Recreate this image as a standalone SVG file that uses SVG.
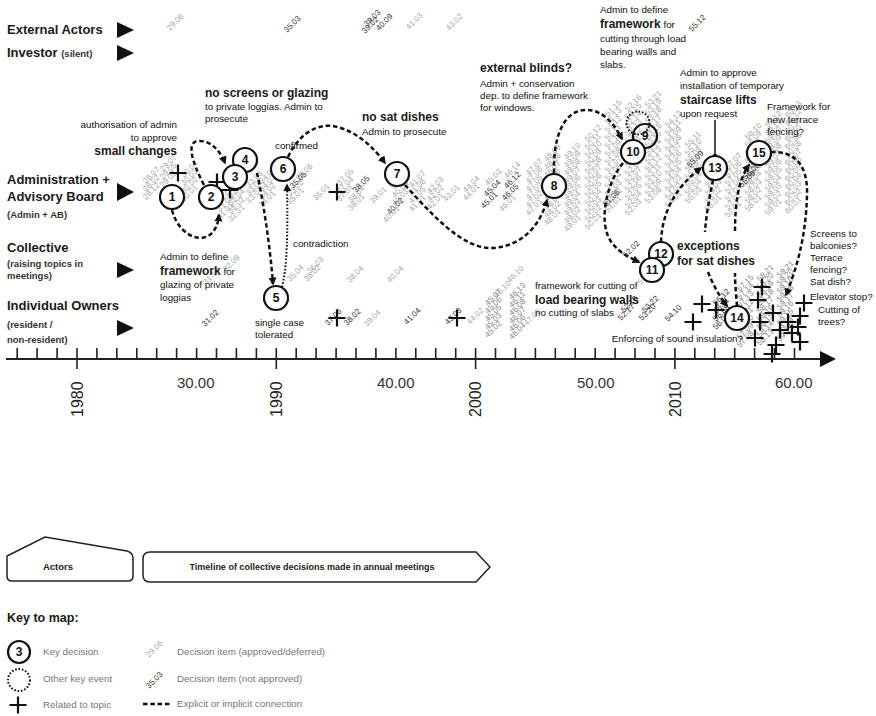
<svg xmlns="http://www.w3.org/2000/svg" width="876" height="716" viewBox="0 0 876 716">
<defs>
<style>
text{font-family:"Liberation Sans",Arial,sans-serif}
.rl{font-size:13px;font-weight:bold;fill:#1a1a1a}
.rs{font-size:9.5px;font-weight:bold;fill:#333}
.hd{font-size:12px;font-weight:bold;fill:#1a1a1a}
.sm{font-size:9.8px;fill:#111}
.g{font-size:8px;fill:#a8a8a8}
.dk{font-size:8px;fill:#333}
.md{font-size:8px;fill:#888}
.con{fill:none;stroke:#111;stroke-width:2.5;stroke-dasharray:4.5 2.8}
.dot{fill:none;stroke:#111;stroke-width:2;stroke-dasharray:1.6 1.8}
.kc{fill:#fff;stroke:#111;stroke-width:2.2}
.num{font-size:12px;font-weight:bold;text-anchor:middle;fill:#111}
.x{stroke:#111;stroke-width:2.2;fill:none}
.ax{stroke:#222;stroke-width:2;fill:none}
.tk{stroke:#222;stroke-width:1.6;fill:none}
.yr{font-size:16px;fill:#222}
.mt{font-size:15px;fill:#333}
.lg{font-size:9.8px;fill:#777}
.tri{fill:#111}
</style>
<marker id="ah" viewBox="0 0 10 10" refX="8" refY="5" markerWidth="8" markerHeight="8" markerUnits="userSpaceOnUse" orient="auto"><path d="M0,0 L10,5 L0,10 z" fill="#111"/></marker>
<path id="cr" d="M-8.5,0 H8.5 M0,-8.5 V8.5"/>
</defs>
<rect width="876" height="716" fill="#fff"/>

<g id="decision-items">
<text class="g" transform="translate(170,31) rotate(-45)">29.06</text>
<text class="dk" transform="translate(287,33) rotate(-45)">35.03</text>
<text class="dk" transform="translate(367,27) rotate(-45)">39.03</text>
<text class="dk" transform="translate(365,34) rotate(-45)">39.02</text>
<text class="dk" transform="translate(379,31) rotate(-45)">40.09</text>
<text class="g" transform="translate(409,30) rotate(-45)">41.03</text>
<text class="g" transform="translate(449,31) rotate(-45)">43.02</text>
<text class="dk" transform="translate(692,32) rotate(-45)">55.12</text>
<text class="g" transform="translate(146,184) rotate(-45)"><tspan x="0" y="0">28.07</tspan><tspan x="-5.66" y="5.66">28.02</tspan><tspan x="-11.3" y="11.3">28.12</tspan></text>
<text class="g" transform="translate(163,172) rotate(-45)"><tspan x="0" y="0">29.07</tspan><tspan x="-5.66" y="5.66">29.05</tspan><tspan x="-11.3" y="11.3">29.02</tspan></text>
<text class="g" transform="translate(184,178) rotate(-45)"><tspan x="0" y="0">30.04</tspan><tspan x="-5.66" y="5.66">30.03</tspan><tspan x="-11.3" y="11.3">30.02</tspan><tspan x="-17" y="17">30.01</tspan></text>
<text class="g" transform="translate(220,204) rotate(-45)"><tspan x="0" y="0">31.04</tspan><tspan x="-5.66" y="5.66">31.03</tspan><tspan x="-11.3" y="11.3">31.01</tspan></text>
<text class="g" transform="translate(231,198) rotate(-45)"><tspan x="0" y="0">32.06</tspan><tspan x="-5.66" y="5.66">32.04</tspan><tspan x="-11.3" y="11.3">32.02</tspan><tspan x="-17" y="17">32.01</tspan></text>
<text class="g" transform="translate(249,188) rotate(-45)"><tspan x="0" y="0">33.03</tspan><tspan x="-5.66" y="5.66">33.02</tspan><tspan x="-11.3" y="11.3">33.01</tspan></text>
<text class="g" transform="translate(262,184) rotate(-45)"><tspan x="0" y="0">34.05</tspan><tspan x="-5.66" y="5.66">34.03</tspan><tspan x="-11.3" y="11.3">34.02</tspan><tspan x="-17" y="17">34.01</tspan></text>
<text class="g" transform="translate(299,181) rotate(-45)">35.06</text>
<text class="dk" transform="translate(293,189) rotate(-45)">35.05</text>
<text class="g" transform="translate(290,197) rotate(-45)"><tspan x="0" y="0">35.02</tspan><tspan x="-5.66" y="5.66">35.01</tspan></text>
<text class="g" transform="translate(316,201) rotate(-45)">36.01</text>
<text class="g" transform="translate(340,186) rotate(-45)"><tspan x="0" y="0">37.05</tspan><tspan x="-5.66" y="5.66">37.04</tspan><tspan x="-11.3" y="11.3">37.01</tspan></text>
<text class="dk" transform="translate(356,193) rotate(-45)">38.05</text>
<text class="g" transform="translate(351,203) rotate(-45)"><tspan x="0" y="0">38.04</tspan><tspan x="-5.66" y="5.66">38.01</tspan></text>
<text class="g" transform="translate(373,204) rotate(-45)">39.01</text>
<text class="g" transform="translate(395,190) rotate(-45)"><tspan x="0" y="0">40.07</tspan><tspan x="-5.66" y="5.66">40.05</tspan><tspan x="-11.3" y="11.3">40.03</tspan></text>
<text class="dk" transform="translate(390,215) rotate(-45)">40.02</text>
<text class="g" transform="translate(386,223) rotate(-45)">40.01</text>
<text class="g" transform="translate(412,188) rotate(-45)"><tspan x="0" y="0">41.07</tspan><tspan x="-5.66" y="5.66">41.06</tspan><tspan x="-11.3" y="11.3">41.05</tspan><tspan x="-17" y="17">41.01</tspan></text>
<text class="g" transform="translate(430,194) rotate(-45)"><tspan x="0" y="0">42.03</tspan><tspan x="-5.66" y="5.66">42.02</tspan><tspan x="-11.3" y="11.3">42.01</tspan></text>
<text class="g" transform="translate(446,202) rotate(-45)">43.01</text>
<text class="g" transform="translate(466,193) rotate(-45)"><tspan x="0" y="0">44.04</tspan><tspan x="-5.66" y="5.66">44.01</tspan></text>
<text class="g" transform="translate(488,186) rotate(-45)">45.03</text>
<text class="dk" transform="translate(487,197) rotate(-45)">45.04</text>
<text class="dk" transform="translate(484,209) rotate(-45)">45.01</text>
<text class="g" transform="translate(507,179) rotate(-45)">46.14</text>
<text class="dk" transform="translate(507,189) rotate(-45)">46.12</text>
<text class="dk" transform="translate(505,201) rotate(-45)">46.05</text>
<text class="g" transform="translate(502,212) rotate(-45)">46.01</text>
<text class="g" transform="translate(529,176) rotate(-45)"><tspan x="0" y="0">47.07</tspan><tspan x="-5.66" y="5.66">47.06</tspan><tspan x="-11.3" y="11.3">47.05</tspan><tspan x="-17" y="17">47.03</tspan><tspan x="-22.6" y="22.6">47.02</tspan><tspan x="-28.3" y="28.3">47.01</tspan></text>
<text class="g" transform="translate(547,162) rotate(-45)"><tspan x="0" y="0">48.09</tspan><tspan x="-5.66" y="5.66">48.08</tspan><tspan x="-11.3" y="11.3">48.07</tspan><tspan x="-17" y="17">48.06</tspan><tspan x="-22.6" y="22.6">48.05</tspan><tspan x="-28.3" y="28.3">48.04</tspan><tspan x="-34" y="34">48.03</tspan><tspan x="-39.6" y="39.6">48.02</tspan><tspan x="-45.3" y="45.3">48.01</tspan></text>
<text class="g" transform="translate(567,160) rotate(-45)"><tspan x="0" y="0">49.10</tspan><tspan x="-5.66" y="5.66">49.09</tspan><tspan x="-11.3" y="11.3">49.08</tspan><tspan x="-17" y="17">49.07</tspan><tspan x="-22.6" y="22.6">49.06</tspan><tspan x="-28.3" y="28.3">49.05</tspan><tspan x="-34" y="34">49.04</tspan><tspan x="-39.6" y="39.6">49.03</tspan><tspan x="-45.3" y="45.3">49.02</tspan><tspan x="-50.9" y="50.9">49.01</tspan></text>
<text class="g" transform="translate(588,142) rotate(-45)"><tspan x="0" y="0">50.12</tspan><tspan x="-5.66" y="5.66">50.11</tspan><tspan x="-11.3" y="11.3">50.10</tspan><tspan x="-17" y="17">50.09</tspan><tspan x="-22.6" y="22.6">50.08</tspan><tspan x="-28.3" y="28.3">50.07</tspan><tspan x="-34" y="34">50.06</tspan><tspan x="-39.6" y="39.6">50.05</tspan><tspan x="-45.3" y="45.3">50.04</tspan><tspan x="-50.9" y="50.9">50.03</tspan><tspan x="-56.6" y="56.6">50.02</tspan><tspan x="-62.2" y="62.2">50.01</tspan></text>
<text class="g" transform="translate(608,117) rotate(-45)"><tspan x="0" y="0">51.15</tspan><tspan x="-5.66" y="5.66">51.13</tspan><tspan x="-11.3" y="11.3">51.12</tspan><tspan x="-17" y="17">51.11</tspan><tspan x="-22.6" y="22.6">51.10</tspan><tspan x="-28.3" y="28.3">51.09</tspan><tspan x="-34" y="34">51.08</tspan><tspan x="-39.6" y="39.6">51.07</tspan><tspan x="-45.3" y="45.3">51.05</tspan><tspan x="-50.9" y="50.9">51.04</tspan><tspan x="-56.6" y="56.6">51.03</tspan><tspan x="-62.2" y="62.2">51.02</tspan><tspan x="-67.9" y="67.9">51.01</tspan></text>
<text class="g" transform="translate(628,112) rotate(-45)"><tspan x="0" y="0">52.16</tspan><tspan x="-5.66" y="5.66">52.15</tspan><tspan x="-11.3" y="11.3">52.14</tspan><tspan x="-17" y="17">52.13</tspan><tspan x="-22.6" y="22.6">52.12</tspan><tspan x="-28.3" y="28.3">52.11</tspan><tspan x="-34" y="34">52.10</tspan><tspan x="-39.6" y="39.6">52.09</tspan><tspan x="-45.3" y="45.3">52.08</tspan><tspan x="-50.9" y="50.9">52.07</tspan><tspan x="-56.6" y="56.6">52.06</tspan><tspan x="-62.2" y="62.2">52.05</tspan><tspan x="-67.9" y="67.9">52.04</tspan><tspan x="-73.5" y="73.5">52.03</tspan></text>
<text class="g" transform="translate(648,108) rotate(-45)"><tspan x="0" y="0">53.21</tspan><tspan x="-5.66" y="5.66">53.19</tspan><tspan x="-11.3" y="11.3">53.18</tspan><tspan x="-17" y="17">53.17</tspan><tspan x="-22.6" y="22.6">53.16</tspan><tspan x="-28.3" y="28.3">53.15</tspan><tspan x="-34" y="34">53.14</tspan><tspan x="-39.6" y="39.6">53.13</tspan><tspan x="-45.3" y="45.3">53.12</tspan><tspan x="-50.9" y="50.9">53.11</tspan><tspan x="-56.6" y="56.6">53.10</tspan><tspan x="-62.2" y="62.2">53.09</tspan><tspan x="-67.9" y="67.9">53.08</tspan></text>
<text class="g" transform="translate(668,128) rotate(-45)"><tspan x="0" y="0">54.12</tspan><tspan x="-5.66" y="5.66">54.11</tspan><tspan x="-11.3" y="11.3">54.09</tspan><tspan x="-17" y="17">54.08</tspan><tspan x="-22.6" y="22.6">54.07</tspan><tspan x="-28.3" y="28.3">54.06</tspan><tspan x="-34" y="34">54.05</tspan><tspan x="-39.6" y="39.6">54.04</tspan><tspan x="-45.3" y="45.3">54.03</tspan><tspan x="-50.9" y="50.9">54.02</tspan><tspan x="-56.6" y="56.6">54.01</tspan></text>
<text class="g" transform="translate(688,148) rotate(-45)"><tspan x="0" y="0">55.11</tspan><tspan x="-5.66" y="5.66">55.10</tspan><tspan x="-11.3" y="11.3">55.08</tspan><tspan x="-17" y="17">55.07</tspan><tspan x="-22.6" y="22.6">55.06</tspan><tspan x="-28.3" y="28.3">55.05</tspan><tspan x="-34" y="34">55.04</tspan><tspan x="-39.6" y="39.6">55.03</tspan></text>
<text class="g" transform="translate(708,172) rotate(-45)"><tspan x="0" y="0">56.10</tspan><tspan x="-5.66" y="5.66">56.05</tspan><tspan x="-11.3" y="11.3">56.04</tspan><tspan x="-17" y="17">56.03</tspan><tspan x="-22.6" y="22.6">56.02</tspan><tspan x="-28.3" y="28.3">56.01</tspan></text>
<text class="g" transform="translate(728,170) rotate(-45)"><tspan x="0" y="0">57.07</tspan><tspan x="-5.66" y="5.66">57.06</tspan><tspan x="-11.3" y="11.3">57.05</tspan><tspan x="-17" y="17">57.04</tspan><tspan x="-22.6" y="22.6">57.03</tspan><tspan x="-28.3" y="28.3">57.02</tspan><tspan x="-34" y="34">57.01</tspan></text>
<text class="g" transform="translate(748,140) rotate(-45)"><tspan x="0" y="0">58.10</tspan><tspan x="-5.66" y="5.66">58.09</tspan><tspan x="-11.3" y="11.3">58.08</tspan><tspan x="-17" y="17">58.07</tspan><tspan x="-22.6" y="22.6">58.06</tspan><tspan x="-28.3" y="28.3">58.05</tspan><tspan x="-34" y="34">58.04</tspan><tspan x="-39.6" y="39.6">58.03</tspan><tspan x="-45.3" y="45.3">58.02</tspan><tspan x="-50.9" y="50.9">58.01</tspan></text>
<text class="g" transform="translate(768,128) rotate(-45)"><tspan x="0" y="0">59.12</tspan><tspan x="-5.66" y="5.66">59.11</tspan><tspan x="-11.3" y="11.3">59.10</tspan><tspan x="-17" y="17">59.09</tspan><tspan x="-22.6" y="22.6">59.08</tspan><tspan x="-28.3" y="28.3">59.07</tspan><tspan x="-34" y="34">59.06</tspan><tspan x="-39.6" y="39.6">59.05</tspan><tspan x="-45.3" y="45.3">59.04</tspan><tspan x="-50.9" y="50.9">59.03</tspan><tspan x="-56.6" y="56.6">59.02</tspan><tspan x="-62.2" y="62.2">59.01</tspan></text>
<text class="g" transform="translate(788,118) rotate(-45)"><tspan x="0" y="0">60.13</tspan><tspan x="-5.66" y="5.66">60.12</tspan><tspan x="-11.3" y="11.3">60.11</tspan><tspan x="-17" y="17">60.10</tspan><tspan x="-22.6" y="22.6">60.09</tspan><tspan x="-28.3" y="28.3">60.08</tspan><tspan x="-34" y="34">60.07</tspan><tspan x="-39.6" y="39.6">60.06</tspan><tspan x="-45.3" y="45.3">60.05</tspan><tspan x="-50.9" y="50.9">60.04</tspan><tspan x="-56.6" y="56.6">60.03</tspan><tspan x="-62.2" y="62.2">60.02</tspan><tspan x="-67.9" y="67.9">60.01</tspan></text>
<text class="dk" transform="translate(606,207) rotate(-45)">51.06</text>
<text class="dk" transform="translate(626,258) rotate(-45)">52.02</text>
<text class="dk" transform="translate(690,168) rotate(-45)">55.09</text>
<text class="dk" transform="translate(746,180) rotate(-45)">56.06</text>
<text class="dk" transform="translate(742,188) rotate(-45)">56.09</text>
<text class="g" transform="translate(206,285) rotate(-45)">31.14</text>
<text class="g" transform="translate(226,272) rotate(-45)">32.08</text>
<text class="g" transform="translate(290,282) rotate(-45)">35.04</text>
<text class="g" transform="translate(310,274) rotate(-45)">36.03</text>
<text class="g" transform="translate(307,282) rotate(-45)">36.02</text>
<text class="g" transform="translate(350,283) rotate(-45)">38.04</text>
<text class="g" transform="translate(390,283) rotate(-45)">40.04</text>
<text class="g" transform="translate(510,283) rotate(-45)">46.10</text>
<text class="g" transform="translate(641,285) rotate(-45)">51.14</text>
<text class="dk" transform="translate(205,327) rotate(-45)">31.02</text>
<text class="dk" transform="translate(328,326) rotate(-45)">37.06</text>
<text class="dk" transform="translate(347,326) rotate(-45)">38.02</text>
<text class="g" transform="translate(367,327) rotate(-45)">39.04</text>
<text class="dk" transform="translate(407,325) rotate(-45)">41.04</text>
<text class="dk" transform="translate(448,325) rotate(-45)">43.03</text>
<text class="g" transform="translate(470,325) rotate(-45)">44.02</text>
<text class="g" transform="translate(497,298) rotate(-45)">45.10</text>
<text class="md" transform="translate(488,306) rotate(-45)"><tspan x="0" y="0">45.07</tspan><tspan x="-5.66" y="5.66">45.06</tspan><tspan x="-11.3" y="11.3">45.05</tspan><tspan x="-17" y="17">45.03</tspan><tspan x="-22.6" y="22.6">45.02</tspan></text>
<text class="md" transform="translate(512,300) rotate(-45)"><tspan x="0" y="0">46.13</tspan><tspan x="-5.66" y="5.66">46.11</tspan><tspan x="-11.3" y="11.3">46.08</tspan><tspan x="-17" y="17">46.07</tspan><tspan x="-22.6" y="22.6">46.06</tspan><tspan x="-28.3" y="28.3">46.04</tspan></text>
<text class="g" transform="translate(527,326) rotate(-45)">47.06</text>
<text class="dk" transform="translate(624,313) rotate(-45)">52.18</text>
<text class="dk" transform="translate(621,321) rotate(-45)">52.17</text>
<text class="dk" transform="translate(645,313) rotate(-45)">53.22</text>
<text class="dk" transform="translate(642,321) rotate(-45)">53.20</text>
<text class="dk" transform="translate(668,322) rotate(-45)">54.10</text>
<text class="dk" transform="translate(716,306) rotate(-45)"><tspan x="0" y="0">56.12</tspan><tspan x="-5.66" y="5.66">56.11</tspan><tspan x="-11.3" y="11.3">56.08</tspan><tspan x="-17" y="17">56.07</tspan></text>
<text class="md" transform="translate(740,292) rotate(-45)"><tspan x="0" y="0">57.15</tspan><tspan x="-5.66" y="5.66">57.14</tspan><tspan x="-11.3" y="11.3">57.13</tspan><tspan x="-17" y="17">57.12</tspan><tspan x="-22.6" y="22.6">57.11</tspan><tspan x="-28.3" y="28.3">57.10</tspan><tspan x="-34" y="34">57.09</tspan><tspan x="-39.6" y="39.6">57.08</tspan></text>
<text class="md" transform="translate(760,282) rotate(-45)"><tspan x="0" y="0">58.21</tspan><tspan x="-5.66" y="5.66">58.20</tspan><tspan x="-11.3" y="11.3">58.19</tspan><tspan x="-17" y="17">58.18</tspan><tspan x="-22.6" y="22.6">58.17</tspan><tspan x="-28.3" y="28.3">58.16</tspan><tspan x="-34" y="34">58.15</tspan><tspan x="-39.6" y="39.6">58.14</tspan><tspan x="-45.3" y="45.3">58.13</tspan></text>
<text class="md" transform="translate(780,278) rotate(-45)"><tspan x="0" y="0">59.21</tspan><tspan x="-5.66" y="5.66">59.20</tspan><tspan x="-11.3" y="11.3">59.19</tspan><tspan x="-17" y="17">59.18</tspan><tspan x="-22.6" y="22.6">59.17</tspan><tspan x="-28.3" y="28.3">59.16</tspan><tspan x="-34" y="34">59.15</tspan><tspan x="-39.6" y="39.6">59.14</tspan><tspan x="-45.3" y="45.3">59.13</tspan></text>
</g>

<g id="axis">
<path class="ax" d="M6,359 H822"/>
<polygon class="tri" points="820,351 836,359 820,367"/>
<path class="tk" d="M17.2,348V359M37.1,348V359M57.1,348V359M77,348V369M96.9,348V359M116.8,348V359M136.8,348V359M156.7,348V359M176.6,348V359M196.6,348V359M216.5,348V359M236.4,348V359M256.4,348V359M276.3,348V369M296.2,348V359M316.1,348V359M336.1,348V359M356,348V359M375.9,348V359M395.9,348V359M415.8,348V359M435.7,348V359M455.7,348V359M475.6,348V369M495.5,348V359M515.4,348V359M535.4,348V359M555.3,348V359M575.2,348V359M595.2,348V359M615.1,348V359M635,348V359M655,348V359M674.9,348V369M694.8,348V359M714.7,348V359M734.7,348V359M754.6,348V359M774.5,348V359M794.5,348V359"/>
<text class="yr" transform="translate(83,417) rotate(-90)">1980</text>
<text class="yr" transform="translate(282,417) rotate(-90)">1990</text>
<text class="yr" transform="translate(481,417) rotate(-90)">2000</text>
<text class="yr" transform="translate(681,417) rotate(-90)">2010</text>
<text class="mt" x="177" y="388">30.00</text>
<text class="mt" x="377" y="388">40.00</text>
<text class="mt" x="577" y="388">50.00</text>
<text class="mt" x="775" y="388">60.00</text>
</g>

<g id="connectors">
<path class="con" d="M172,210 C180,242 216,250 219,215" marker-end="url(#ah)"/>
<path class="con" d="M204,185 C192,162 186,142 198,141 C210,140 220,150 225,163" marker-end="url(#ah)"/>
<path class="con" d="M257,173 C263,200 270,245 273,284" marker-end="url(#ah)"/>
<path class="dot" d="M282,287 C287,268 288,235 287,185" marker-end="url(#ah)"/>
<path class="con" d="M288,157 C300,132 318,124 333,126 C356,130 374,148 385,163" marker-end="url(#ah)"/>
<path class="con" d="M405,185 C428,210 462,250 493,248 C522,246 540,226 547,200" marker-end="url(#ah)"/>
<path class="con" d="M554,173 C553,140 562,111 585,110 C603,109 615,125 622,139" marker-end="url(#ah)"/>
<path class="con" d="M623,163 C605,185 598,225 612,243 C620,253 630,258 639,262" marker-end="url(#ah)"/>
<path class="con" d="M661,242 C662,214 674,188 701,168" marker-end="url(#ah)"/>
<path class="con" d="M713,180 C709,200 706,216 705,232"/>
<path class="con" d="M708,272 C713,285 720,297 727,306" marker-end="url(#ah)"/>
<path class="con" d="M737,306 C736,295 735,283 735,273"/>
<path class="con" d="M735,231 C735,205 738,180 749,165" marker-end="url(#ah)"/>
<path class="con" d="M771,152 C795,151 808,165 807,195 C806,238 796,270 786,295" marker-end="url(#ah)"/>
<path d="M715,156 V120" stroke="#111" stroke-width="1.5" fill="none"/>
<circle cx="715" cy="156" r="2.3" fill="#111"/>
</g>

<g id="topic-markers" class="x">
<use href="#cr" x="178" y="173"/>
<use href="#cr" x="217" y="182"/>
<use href="#cr" x="230" y="190"/>
<use href="#cr" x="337" y="192"/>
<use href="#cr" x="337" y="318"/>
<use href="#cr" x="457" y="318"/>
<use href="#cr" x="693" y="322"/>
<use href="#cr" x="702" y="304"/>
<use href="#cr" x="716" y="310"/>
<use href="#cr" x="755" y="338"/>
<use href="#cr" x="758" y="300"/>
<use href="#cr" x="762" y="287"/>
<use href="#cr" x="760" y="322"/>
<use href="#cr" x="773" y="313"/>
<use href="#cr" x="776" y="345"/>
<use href="#cr" x="772" y="354"/>
<use href="#cr" x="780" y="330"/>
<use href="#cr" x="788" y="322"/>
<use href="#cr" x="792" y="333"/>
<use href="#cr" x="798" y="327"/>
<use href="#cr" x="800" y="342"/>
<use href="#cr" x="804" y="303"/>
<use href="#cr" x="800" y="316"/>
</g>

<g id="n1"><circle class="kc" cx="172" cy="197" r="12"/><text class="num" x="172" y="201.3">1</text></g>
<g id="n2"><circle class="kc" cx="211" cy="197" r="12"/><text class="num" x="211" y="201.3">2</text></g>
<g id="n4"><circle class="kc" cx="245" cy="160" r="12"/><text class="num" x="245" y="164.3">4</text></g>
<g id="n3"><circle class="kc" cx="235" cy="177" r="12"/><text class="num" x="235" y="181.3">3</text></g>
<g id="n5"><circle class="kc" cx="276" cy="298" r="12"/><text class="num" x="276" y="302.3">5</text></g>
<g id="n6"><circle class="kc" cx="283" cy="169" r="12"/><text class="num" x="283" y="173.3">6</text></g>
<g id="n7"><circle class="kc" cx="397" cy="174" r="12"/><text class="num" x="397" y="178.3">7</text></g>
<g id="n8"><circle class="kc" cx="554" cy="186" r="12"/><text class="num" x="554" y="190.3">8</text></g>
<g id="other-event"><circle class="dot" cx="638" cy="123" r="11.5"/></g>
<g id="n9"><circle cx="645" cy="136" r="12" fill="none" stroke="#111" stroke-width="2.2"/><text class="num" x="645" y="140.3">9</text></g>
<g id="n10"><circle class="kc" cx="633" cy="152" r="12"/><text class="num" x="633" y="156.3">10</text></g>
<g id="n12"><circle class="kc" cx="661" cy="254" r="12"/><text class="num" x="661" y="258.3">12</text></g>
<g id="n11"><circle class="kc" cx="652" cy="270" r="12"/><text class="num" x="652" y="274.3">11</text></g>
<g id="n13"><circle class="kc" cx="715" cy="168" r="12"/><text class="num" x="715" y="172.3">13</text></g>
<g id="n14"><circle class="kc" cx="737" cy="318" r="12"/><text class="num" x="737" y="322.3">14</text></g>
<g id="n15"><circle class="kc" cx="759" cy="153" r="12"/><text class="num" x="759" y="157.3">15</text></g>

<g id="annotations">
<text class="sm" x="177" y="128" text-anchor="end">authorisation of admin</text>
<text class="sm" x="177" y="141" text-anchor="end">to approve</text>
<text class="hd" x="177" y="155" text-anchor="end">small changes</text>
<text class="hd" x="205" y="97">no screens or glazing</text>
<text class="sm" x="205" y="110">to private loggias. Admin to</text>
<text class="sm" x="205" y="122">prosecute</text>
<text class="sm" x="275" y="149">confirmed</text>
<text class="hd" x="362" y="121">no sat dishes</text>
<text class="sm" x="362" y="135">Admin to prosecute</text>
<text class="hd" x="480" y="72">external blinds?</text>
<text class="sm" x="480" y="87">Admin + conservation</text>
<text class="sm" x="480" y="99">dep. to define framework</text>
<text class="sm" x="480" y="111">for windows.</text>
<text class="sm" x="600" y="13">Admin to define</text>
<text x="600" y="28"><tspan class="hd">framework</tspan><tspan class="sm"> for</tspan></text>
<text class="sm" x="600" y="42">cutting through load</text>
<text class="sm" x="600" y="55">bearing walls and</text>
<text class="sm" x="600" y="68">slabs.</text>
<text class="sm" x="680" y="76">Admin to approve</text>
<text class="sm" x="680" y="89">installation of temporary</text>
<text class="hd" x="680" y="104">staircase lifts</text>
<text class="sm" x="680" y="117">upon request</text>
<text class="sm" x="767" y="110">Framework for</text>
<text class="sm" x="767" y="123">new terrace</text>
<text class="sm" x="767" y="135">fencing?</text>
<text class="sm" x="160" y="260">Admin to define</text>
<text x="160" y="275"><tspan class="hd">framework</tspan><tspan class="sm"> for</tspan></text>
<text class="sm" x="160" y="288">glazing of private</text>
<text class="sm" x="160" y="301">loggias</text>
<text class="sm" x="293" y="247">contradiction</text>
<text class="sm" x="255" y="326">single case</text>
<text class="sm" x="255" y="338">tolerated</text>
<text class="sm" x="535" y="289">framework for cutting of</text>
<text class="hd" x="535" y="304">load bearing walls</text>
<text class="sm" x="535" y="316">no cutting of slabs</text>
<text class="hd" x="677" y="250">exceptions</text>
<text class="hd" x="677" y="265">for sat dishes</text>
<text class="sm" x="810" y="237">Screens to</text>
<text class="sm" x="810" y="249">balconies?</text>
<text class="sm" x="810" y="261">Terrace</text>
<text class="sm" x="810" y="273">fencing?</text>
<text class="sm" x="810" y="285">Sat dish?</text>
<text class="sm" x="810" y="300">Elevator stop?</text>
<text class="sm" x="818" y="313">Cutting of</text>
<text class="sm" x="818" y="325">trees?</text>
<text class="sm" x="743" y="342" text-anchor="end" font-size="9.3">Enforcing of sound insulation?</text>
</g>

<g id="actor-external"><text class="rl" x="7" y="34">External Actors</text><polygon class="tri" points="117,22 134,30 117,38"/></g>
<g id="actor-investor"><text class="rl" x="7" y="57">Investor <tspan class="rs">(silent)</tspan></text><polygon class="tri" points="117,45 134,53 117,61"/></g>
<g id="actor-admin"><text class="rl" x="7" y="184">Administration +</text><text class="rl" x="7" y="201">Advisory Board</text><text class="rs" x="7" y="218">(Admin + AB)</text><polygon class="tri" points="117,183 134,192 117,201"/></g>
<g id="actor-collective"><text class="rl" x="7" y="252">Collective</text><text class="rs" x="7" y="267">(raising topics in</text><text class="rs" x="7" y="279">meetings)</text><polygon class="tri" points="117,262 134,270 117,278"/></g>
<g id="actor-owners"><text class="rl" x="7" y="310">Individual Owners</text><text class="rs" x="7" y="328">(resident /</text><text class="rs" x="7" y="343">non-resident)</text><polygon class="tri" points="117,320 134,328 117,336"/></g>

<g id="legend">
<path d="M12,581 Q7,581 7,576 L7,556 L45,537 L127,551 Q133,553 133,558 L133,576 Q133,581 128,581 Z" fill="none" stroke="#222" stroke-width="1.5"/>
<text x="58" y="570" text-anchor="middle" font-size="9.5" font-weight="bold" fill="#222">Actors</text>
<path d="M150,552 L476,552 L490,567 L476,582 L150,582 Q143,582 143,575 L143,559 Q143,552 150,552 Z" fill="none" stroke="#222" stroke-width="1.5"/>
<text x="312" y="570" text-anchor="middle" font-size="9" font-weight="bold" fill="#222">Timeline of collective decisions made in annual meetings</text>
<text x="7" y="622" font-size="12.5" font-weight="bold" fill="#1a1a1a">Key to map:</text>
<circle class="kc" cx="19" cy="652" r="11"/><text class="num" x="19" y="656.3">3</text>
<text class="lg" x="43" y="655">Key decision</text>
<circle class="dot" cx="19" cy="680" r="11"/>
<text class="lg" x="43" y="682">Other key event</text>
<use href="#cr" x="18" y="705" class="x"/>
<text class="lg" x="43" y="708">Related to topic</text>
<text class="g" transform="translate(149,658) rotate(-45)">29.06</text>
<text class="lg" x="177" y="655">Decision item  (approved/deferred)</text>
<text class="dk" transform="translate(149,689) rotate(-45)">35.03</text>
<text class="lg" x="177" y="682">Decision item (not approved)</text>
<path class="con" d="M143,704 H171" stroke-width="2"/>
<text class="lg" x="177" y="707">Explicit or implicit connection</text>
</g>
</svg>
